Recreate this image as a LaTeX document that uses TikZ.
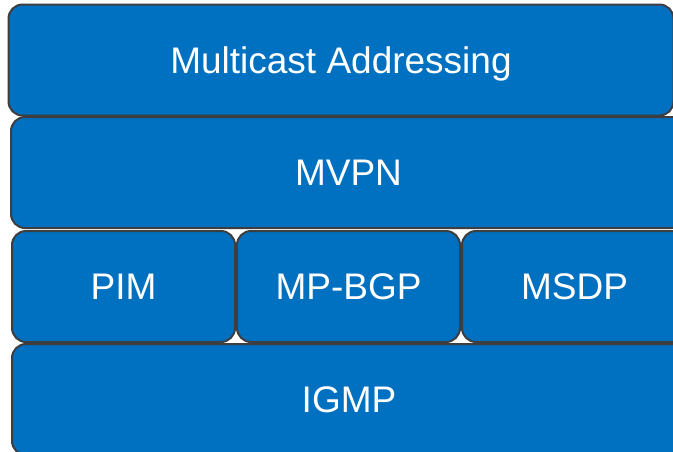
\documentclass[tikz,border=0pt]{standalone}
\usepackage{fontspec}
\setmainfont{Liberation Sans}
\usetikzlibrary{positioning}
\definecolor{layerblue}{RGB}{0,112,192}
\definecolor{layeredge}{RGB}{62,62,64}
\tikzset{
  layer/.style={rectangle,rounded corners=14pt,draw=layeredge,line width=2pt,
                fill=layerblue,text=white,inner sep=0pt,minimum height=111pt,
                text height=26.5pt,text depth=0pt,
                font=\fontsize{37}{44}\selectfont},
}
\begin{document}
\begin{tikzpicture}[x=1pt,y=-1pt]
  \useasboundingbox (0,0) rectangle (673,451);
  % the stack, top to bottom
  \node[layer,minimum width=665pt] (addr) at (341,60) {Multicast Addressing};
  \node[layer,minimum width=675pt] (mvpn) at (348.5,172.5) {MVPN};
  % middle row
  \node[layer,minimum width=223pt] (pim) at (123.5,286.5) {PIM};
  \node[layer,minimum width=223pt,right=0pt of pim] (mpbgp) {MP-BGP};
  \node[layer,minimum width=225pt,right=0pt of mpbgp] (msdp) {MSDP};
  \node[layer,minimum width=674pt] (igmp) at (349,399.5) {IGMP};
\end{tikzpicture}
\end{document}
